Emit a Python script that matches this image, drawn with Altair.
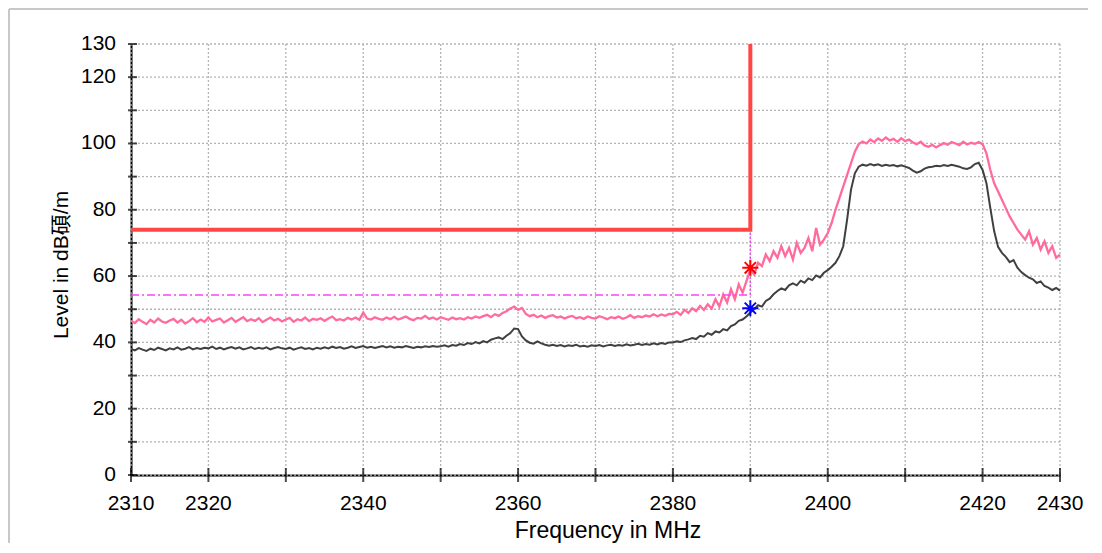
import altair as alt
import pandas as pd

# ---------------- data ----------------
freq_start = 2310.0
freq_step = 0.5

peak_level = (
    [46.5, 45.8, 47.0, 46.2, 45.5, 46.8, 46.0, 47.2, 46.3, 45.9, 46.6, 47.1, 46.0, 46.8, 45.7, 46.4, 47.3, 46.1, 46.9, 46.2]
    + [47.5, 46.3, 46.8, 47.2, 46.0, 46.7, 47.4, 46.2, 46.9, 47.6, 46.4, 47.0, 46.5, 47.3, 46.1, 46.8, 47.5, 46.6, 47.1, 46.3]
    + [46.9, 47.4, 46.2, 47.0, 46.6, 47.5, 46.4, 47.1, 46.8, 47.3, 46.5, 47.2, 47.8, 46.7, 47.0, 46.6, 47.4, 46.9, 47.5, 46.8]
    + [49.0, 47.2, 46.9, 47.6, 47.1, 46.8, 47.5, 47.0, 47.7, 46.9, 47.3, 47.8, 47.1, 46.7, 47.4, 47.2, 48.0, 47.1, 47.5, 46.9]
    + [47.6, 47.2, 46.8, 47.5, 47.0, 47.3, 46.9, 47.6, 47.2, 47.8, 47.4, 47.9, 48.3, 47.6, 48.5, 48.0, 48.9, 49.4, 50.2, 50.8]
    + [49.8, 50.4, 48.6, 47.9, 48.3, 47.6, 48.1, 47.4, 47.9, 48.2, 47.5, 47.8, 47.2, 47.7, 48.0, 47.3, 47.6, 47.1, 47.8, 47.4]
    + [47.2, 47.9, 47.5, 47.0, 47.6, 47.3, 47.8, 47.1, 47.5, 48.2, 47.4, 47.9, 47.6, 48.1, 47.8, 48.5, 47.9, 48.4, 48.0, 48.6]
    + [48.5, 49.2, 48.3, 49.8, 48.9, 50.3, 49.4, 51.0, 49.8, 51.5, 50.2, 53.0, 50.8, 54.5, 52.0, 56.0, 53.0, 57.5, 55.0, 58.5]
    + [62.0, 60.5, 64.0, 63.0, 66.5, 64.5, 67.5, 65.5, 69.0, 66.0, 68.5, 65.0, 70.0, 67.0, 68.5, 71.5, 67.5, 74.5, 69.5, 71.0]
    + [73.0, 76.0, 80.0, 83.5, 87.0, 90.5, 94.0, 97.5, 99.8, 100.6, 100.0, 101.2, 100.4, 101.5, 100.8, 101.8, 100.9, 101.4, 100.5, 101.6]
    + [100.7, 101.2, 100.3, 99.8, 100.5, 99.4, 99.0, 99.6, 98.8, 99.5, 100.1, 99.6, 100.4, 100.0, 99.5, 100.5, 99.7, 100.2, 99.9, 100.4]
    + [99.8, 97.0, 92.0, 88.0, 85.5, 83.0, 80.5, 78.0, 76.0, 74.0, 72.5, 71.0, 73.5, 69.5, 71.5, 68.0, 70.5, 67.0, 69.0, 65.5]
    + [66.5]
)

avg_level = (
    [38.0, 37.6, 38.3, 37.8, 37.4, 38.1, 37.7, 38.4, 38.0, 37.6, 38.2, 37.9, 38.5, 37.8, 38.1, 38.6, 37.9, 38.3, 38.0, 38.4]
    + [38.2, 38.7, 38.0, 38.4, 37.9, 38.3, 38.6, 38.1, 38.5, 37.9, 38.2, 38.6, 38.0, 38.4, 38.1, 38.5, 37.9, 38.3, 38.6, 38.2]
    + [38.0, 38.4, 37.8, 38.2, 38.5, 38.0, 38.3, 37.9, 38.4, 38.1, 38.5, 38.2, 38.7, 38.3, 38.6, 38.1, 38.4, 38.8, 38.3, 38.6]
    + [38.9, 38.4, 38.7, 38.3, 38.6, 38.9, 38.5, 38.8, 38.4, 38.7, 38.5, 38.9, 38.6, 38.3, 38.7, 38.5, 38.8, 38.6, 38.9, 38.7]
    + [38.8, 39.1, 38.7, 39.2, 39.0, 39.5, 39.2, 39.8, 39.5, 40.1, 39.7, 40.4, 40.0, 40.8, 41.2, 41.5, 41.0, 42.0, 42.8, 44.2]
    + [44.0, 41.8, 40.6, 39.9, 39.6, 40.3, 39.7, 39.3, 39.0, 39.3, 38.9, 39.2, 38.8, 39.1, 38.9, 39.3, 38.8, 39.0, 38.7, 39.1]
    + [38.9, 39.2, 38.8, 39.1, 39.3, 38.9, 39.2, 39.0, 39.4, 39.1, 39.3, 39.6, 39.2, 39.5, 39.3, 39.7, 39.4, 39.8, 39.5, 40.0]
    + [40.0, 40.3, 40.1, 40.6, 40.9, 41.3, 41.0, 42.0, 41.7, 42.8, 42.3, 43.3, 43.0, 44.0, 43.6, 44.9, 45.4, 46.5, 46.9, 47.8]
    + [49.0, 50.0, 51.2, 50.8, 52.5, 53.2, 54.5, 55.5, 56.3, 55.8, 57.2, 57.8, 57.2, 58.6, 58.0, 59.3, 58.8, 60.2, 59.6, 61.0]
    + [61.8, 62.8, 64.0, 66.0, 69.0, 77.0, 86.0, 91.0, 93.0, 93.6, 93.3, 93.8, 93.4, 93.7, 93.2, 93.6, 93.3, 93.5, 93.1, 93.4]
    + [93.0, 92.6, 91.8, 91.2, 91.6, 92.4, 92.8, 93.0, 93.3, 93.1, 93.5, 93.2, 93.6, 93.3, 93.0, 92.5, 92.3, 92.8, 93.8, 94.2]
    + [92.0, 88.0, 80.5, 73.5, 68.8, 67.0, 65.8, 64.2, 64.8, 62.5, 61.2, 60.3, 59.5, 59.0, 57.9, 58.4, 57.0, 56.5, 55.8, 56.4]
    + [55.6]
)

limit_freq = [2310, 2390, 2390]
limit_level = [74, 74, 130]
margin_freq = [2310, 2390]
margin_level = [54.3, 54.3]
drop_freq = [2390, 2390]
drop_level = [54.3, 74]
marker_freq = [2390, 2390]
marker_level = [62.5, 50.3]
marker_color = ["#ff0000", "#0000ff"]

x_ticks = list(range(2310, 2431, 10))
x_labels = [2310, 2320, 2340, 2360, 2380, 2400, 2420, 2430]
y_ticks = list(range(0, 131, 10))
y_labels = [0, 20, 40, 60, 80, 100, 120, 130]

# ---------------- tables ----------------
freqs = [freq_start + i * freq_step for i in range(len(peak_level))]
peak_df = pd.DataFrame({"freq": freqs, "level": peak_level})
avg_df = pd.DataFrame({"freq": freqs, "level": avg_level})
limit_df = pd.DataFrame({"freq": limit_freq, "level": limit_level, "o": [0, 1, 2]})
margin_df = pd.DataFrame({"freq": margin_freq, "level": margin_level})
drop_df = pd.DataFrame({"freq": drop_freq, "level": drop_level})
marker_df = pd.DataFrame({"freq": marker_freq, "level": marker_level, "c": marker_color})
xt_df = pd.DataFrame({"t": x_ticks})
yt_df = pd.DataFrame({"t": y_ticks})
xl_df = pd.DataFrame({"t": x_labels})
yl_df = pd.DataFrame({"t": y_labels})
one_df = pd.DataFrame({"a": [0]})

W, H = 929, 431
LABEL_FONT = "Liberation Sans Narrow, Arial Narrow, Liberation Sans"
TITLE_FONT = "Liberation Sans, Noto Sans CJK SC"
GRID_COLOR = "#b4b4b4"

xs = alt.Scale(domain=[min(x_ticks), max(x_ticks)], nice=False, zero=False)
ys = alt.Scale(domain=[min(y_ticks), max(y_ticks)], nice=False, zero=True)

axis_common = dict(
    grid=False, ticks=False, labels=False, domainColor="black", domainWidth=2,
    titleFont=TITLE_FONT, titleFontWeight="normal", titleColor="black",
)
x_axis = alt.Axis(title="Frequency in MHz", titleFontSize=23, titlePadding=44,
                  titleX=W / 2 + 12, **axis_common)
y_axis = alt.Axis(title="Level in dB碩/m", titleFontSize=21, titlePadding=60,
                  titleY=H / 2 + 5, **axis_common)

# light page frame (top and left edges)
frame_top = alt.Chart(one_df).mark_rule(color="#c8c8c8", strokeWidth=2).encode(
    x=alt.value(-122), x2=alt.value(W + 300), y=alt.value(-35)
)
frame_left = alt.Chart(one_df).mark_rule(color="#c8c8c8", strokeWidth=2).encode(
    x=alt.value(-122), y=alt.value(-35), y2=alt.value(H + 300)
)

# dotted grid
x_grid = alt.Chart(xt_df).mark_rule(color=GRID_COLOR, strokeWidth=1.3, strokeDash=[2, 2]).encode(
    x=alt.X("t:Q", scale=xs, axis=x_axis)
)
y_grid = alt.Chart(yt_df).mark_rule(color=GRID_COLOR, strokeWidth=1.3, strokeDash=[2, 2]).encode(
    y=alt.Y("t:Q", scale=ys, axis=y_axis)
)

avg_line = alt.Chart(avg_df).mark_line(color="#404040", strokeWidth=2).encode(
    x=alt.X("freq:Q", scale=xs), y=alt.Y("level:Q", scale=ys)
)
peak_line = alt.Chart(peak_df).mark_line(color="#ff6b9b", strokeWidth=2.3).encode(
    x=alt.X("freq:Q", scale=xs), y=alt.Y("level:Q", scale=ys)
)
margin_line = alt.Chart(margin_df).mark_line(color="#ff40ff", strokeWidth=1.5, strokeDash=[8, 3, 2, 3]).encode(
    x=alt.X("freq:Q", scale=xs), y=alt.Y("level:Q", scale=ys)
)
drop_line = alt.Chart(drop_df).mark_line(color="#ff40ff", strokeWidth=1.5, strokeDash=[2, 2]).encode(
    x=alt.X("freq:Q", scale=xs), y=alt.Y("level:Q", scale=ys)
)
limit_line = alt.Chart(limit_df).mark_line(color="#ff4646", strokeWidth=4).encode(
    x=alt.X("freq:Q", scale=xs), y=alt.Y("level:Q", scale=ys), order="o:Q"
)
STAR = "M0,-1L0,1M-1,0L1,0M-0.7,-0.7L0.7,0.7M-0.7,0.7L0.7,-0.7"
markers = alt.Chart(marker_df).mark_point(shape=STAR, filled=False, strokeWidth=2, size=260, opacity=1).encode(
    x=alt.X("freq:Q", scale=xs), y=alt.Y("level:Q", scale=ys), color=alt.Color("c:N", scale=None)
)

# tick marks crossing the axis lines
x_tickmarks = alt.Chart(xt_df).mark_tick(color="black", thickness=2, size=14).encode(
    x=alt.X("t:Q", scale=xs), y=alt.value(H)
)
y_tickmarks = alt.Chart(yt_df).mark_tick(color="black", thickness=2, size=9).encode(
    y=alt.Y("t:Q", scale=ys), x=alt.value(1.5)
)

# tick labels
x_ticklabels = alt.Chart(xl_df).mark_text(
    font=LABEL_FONT, fontSize=21, color="black", align="center", baseline="top"
).encode(x=alt.X("t:Q", scale=xs), y=alt.value(H + 18), text=alt.Text("t:Q", format="d"))
y_ticklabels = alt.Chart(yl_df).mark_text(
    font=LABEL_FONT, fontSize=21, color="black", align="right", baseline="middle"
).encode(y=alt.Y("t:Q", scale=ys), x=alt.value(-15), text=alt.Text("t:Q", format="d"))

chart = alt.layer(
    frame_top, frame_left, x_grid, y_grid,
    avg_line, peak_line, margin_line, drop_line, limit_line, markers,
    x_tickmarks, y_tickmarks, x_ticklabels, y_ticklabels,
).properties(
    width=W, height=H,
    autosize=alt.AutoSizeParams(type="none"),
    padding={"left": 123, "top": 36, "right": 28, "bottom": 68},
    background="white",
).configure_view(stroke=None)

chart.save("out.html", embed_options={"renderer": "svg", "actions": False})
